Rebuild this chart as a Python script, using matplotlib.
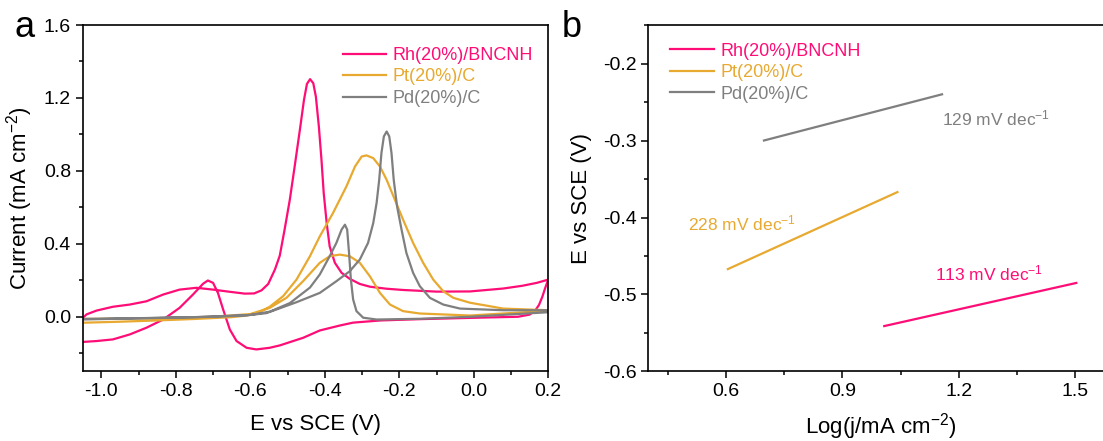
import matplotlib
matplotlib.use("Agg")
import matplotlib.pyplot as plt
from matplotlib.ticker import MultipleLocator

plt.rcParams['font.family'] = ['Liberation Sans', 'DejaVu Sans']
plt.rcParams['axes.unicode_minus'] = False
plt.rcParams['mathtext.fontset'] = 'custom'
plt.rcParams['mathtext.rm'] = 'Liberation Sans'
plt.rcParams['mathtext.it'] = 'Liberation Sans:italic'
plt.rcParams['mathtext.bf'] = 'Liberation Sans:bold'

labels = ["Rh(20%)/BNCNH", "Pt(20%)/C", "Pd(20%)/C"]
colors = ["#FF0D76", "#E8A930", "#7F7F7F"]

# ---- panel a: CV curves (forward branch, then return branch) ----
rh_up_x = [-1.058, -1.040, -1.013, -0.969, -0.924, -0.879, -0.834, -0.790, -0.745, -0.700,
           -0.655, -0.615, -0.590, -0.570, -0.552, -0.534, -0.521, -0.508, -0.494, -0.481,
           -0.467, -0.456, -0.448, -0.4396, -0.431, -0.424, -0.416, -0.409, -0.403, -0.395,
           -0.387, -0.373, -0.355, -0.333, -0.306, -0.279, -0.235, -0.190, -0.100, -0.010,
           0.079, 0.130, 0.169, 0.2]
rh_up_y = [-0.024, 0.013, 0.034, 0.055, 0.067, 0.085, 0.122, 0.149, 0.159, 0.149,
           0.137, 0.127, 0.128, 0.145, 0.180, 0.259, 0.335, 0.478, 0.642, 0.824,
           1.025, 1.189, 1.277, 1.303, 1.281, 1.207, 1.043, 0.861, 0.679, 0.514,
           0.386, 0.296, 0.241, 0.208, 0.180, 0.165, 0.154, 0.147, 0.138, 0.139,
           0.155, 0.170, 0.186, 0.204]
rh_dn_x = [0.2, 0.192, 0.184, 0.175, 0.165, 0.15, 0.118, 0.05, -0.01, -0.145,
           -0.25, -0.324, -0.36, -0.4135, -0.458, -0.521, -0.548, -0.584, -0.610, -0.637,
           -0.655, -0.673, -0.687, -0.700, -0.714, -0.727, -0.754, -0.790, -0.834, -0.879,
           -0.924, -0.969, -1.013, -1.058]
rh_dn_y = [0.204, 0.16, 0.11, 0.065, 0.035, 0.012, 0.0, -0.003, -0.006, -0.013,
           -0.02, -0.032, -0.048, -0.075, -0.115, -0.157, -0.170, -0.179, -0.170, -0.133,
           -0.070, 0.040, 0.131, 0.186, 0.199, 0.181, 0.122, 0.049, -0.015, -0.060,
           -0.097, -0.124, -0.133, -0.139]

pt_up_x = [-1.058, -0.95, -0.85, -0.75, -0.65, -0.61, -0.575, -0.548, -0.512, -0.476,
           -0.440, -0.4135, -0.378, -0.342, -0.319, -0.301, -0.288, -0.270, -0.252, -0.234,
           -0.212, -0.190, -0.163, -0.136, -0.109, -0.082, -0.055, -0.010, 0.079, 0.2]
pt_up_y = [-0.033, -0.027, -0.02, -0.012, -0.002, 0.007, 0.025, 0.055, 0.113, 0.204,
           0.332, 0.441, 0.569, 0.715, 0.824, 0.879, 0.885, 0.870, 0.824, 0.751,
           0.642, 0.533, 0.405, 0.296, 0.204, 0.140, 0.104, 0.077, 0.045, 0.036]
pt_dn_x = [0.2, 0.079, -0.010, -0.145, -0.190, -0.225, -0.252, -0.279, -0.306, -0.333,
           -0.360, -0.387, -0.4135, -0.458, -0.503, -0.548, -0.6, -0.7, -0.85, -1.058]
pt_dn_y = [0.033, 0.018, 0.007, 0.018, 0.031, 0.067, 0.131, 0.222, 0.296, 0.332,
           0.341, 0.332, 0.296, 0.196, 0.104, 0.049, 0.015, 0.0, -0.008, -0.012]

pd_up_x = [-1.058, -0.85, -0.7, -0.61, -0.557, -0.476, -0.4135, -0.369, -0.333, -0.306,
           -0.284, -0.270, -0.261, -0.254, -0.248, -0.2415, -0.234, -0.227, -0.221, -0.215,
           -0.206, -0.194, -0.181, -0.163, -0.145, -0.118, -0.082, -0.037, 0.079, 0.2]
pd_up_y = [-0.012, -0.006, 0.0, 0.008, 0.02, 0.08, 0.131, 0.195, 0.250, 0.314,
           0.405, 0.514, 0.624, 0.751, 0.898, 0.989, 1.016, 0.989, 0.898, 0.751,
           0.605, 0.478, 0.350, 0.241, 0.168, 0.104, 0.067, 0.045, 0.036, 0.036]
pd_dn_x = [0.2, -0.010, -0.145, -0.261, -0.297, -0.315, -0.324, -0.330, -0.335, -0.340,
           -0.346, -0.355, -0.369, -0.387, -0.4135, -0.44, -0.494, -0.548, -0.6, -0.75,
           -1.058]
pd_dn_y = [0.025, 0.0, -0.011, -0.015, -0.005, 0.031, 0.095, 0.204, 0.350, 0.478,
           0.505, 0.478, 0.405, 0.332, 0.232, 0.16, 0.075, 0.028, 0.01, -0.002,
           -0.015]

# ---- panel b: Tafel fits ----
tafel_x = [[1.008, 1.503], [0.605, 1.042], [0.698, 1.157]]
tafel_y = [[-0.541, -0.485], [-0.467, -0.367], [-0.300, -0.240]]
slopes = ["113 mV dec$^{-1}$", "228 mV dec$^{-1}$", "129 mV dec$^{-1}$"]
slope_pos = [(1.14, -0.473), (0.502, -0.408), (1.158, -0.271)]

fig = plt.figure(figsize=(11.03, 4.41), dpi=100)
ax1 = fig.add_axes([0.075, 0.1576, 0.4221, 0.7857])
ax2 = fig.add_axes([0.5878, 0.1576, 0.4221, 0.7857])

cv = [(rh_up_x + rh_dn_x, rh_up_y + rh_dn_y),
      (pt_up_x + pt_dn_x, pt_up_y + pt_dn_y),
      (pd_up_x + pd_dn_x, pd_up_y + pd_dn_y)]
for (x, y), c, lab in zip(cv, colors, labels):
    ax1.plot(x, y, color=c, lw=1.6, label=lab, solid_joinstyle='round')

ax1.set_xlim(-1.05, 0.2)
ax1.set_ylim(-0.3, 1.6)
ax1.xaxis.set_major_locator(MultipleLocator(0.2))
ax1.xaxis.set_minor_locator(MultipleLocator(0.1))
ax1.yaxis.set_major_locator(MultipleLocator(0.4))
ax1.yaxis.set_minor_locator(MultipleLocator(0.2))
ax1.set_xlabel("E vs SCE (V)", fontsize=16, labelpad=10)
ax1.set_ylabel("Current (mA cm$^{-2}$)", fontsize=16, labelpad=6)
ax1.legend(loc='upper left', bbox_to_anchor=(0.539, 0.963), frameon=False, fontsize=13,
           handlelength=2.4, handletextpad=0.35, labelspacing=0.25, borderpad=0,
           labelcolor='linecolor')

for x, y, c, lab in zip(tafel_x, tafel_y, colors, labels):
    ax2.plot(x, y, color=c, lw=1.6, label=lab)
for s, (px, py), c in zip(slopes, slope_pos, colors):
    ax2.text(px, py, s, color=c, fontsize=12.5, ha='left', va='center')

ax2.set_xlim(0.4, 1.6)
ax2.set_ylim(-0.6, -0.15)
ax2.xaxis.set_major_locator(MultipleLocator(0.3))
ax2.xaxis.set_minor_locator(MultipleLocator(0.15))
ax2.yaxis.set_major_locator(MultipleLocator(0.1))
ax2.yaxis.set_minor_locator(MultipleLocator(0.05))
ax2.set_xlabel("Log(j/mA cm$^{-2}$)", fontsize=16, labelpad=8)
ax2.set_ylabel("E vs SCE (V)", fontsize=16, labelpad=8)
ax2.legend(loc='upper left', bbox_to_anchor=(0.028, 0.975), frameon=False, fontsize=13,
           handlelength=2.4, handletextpad=0.35, labelspacing=0.25, borderpad=0,
           labelcolor='linecolor')

for ax in (ax1, ax2):
    for sp in ax.spines.values():
        sp.set_linewidth(1.2)
    ax.tick_params(which='both', direction='out', width=1.1, labelsize=14,
                   top=False, right=False)
    ax.tick_params(which='major', length=5)
    ax.tick_params(which='minor', length=3)

fig.text(0.013, 0.915, "a", fontsize=26)
fig.text(0.509, 0.915, "b", fontsize=26)

fig.savefig("out.png", dpi=100)
